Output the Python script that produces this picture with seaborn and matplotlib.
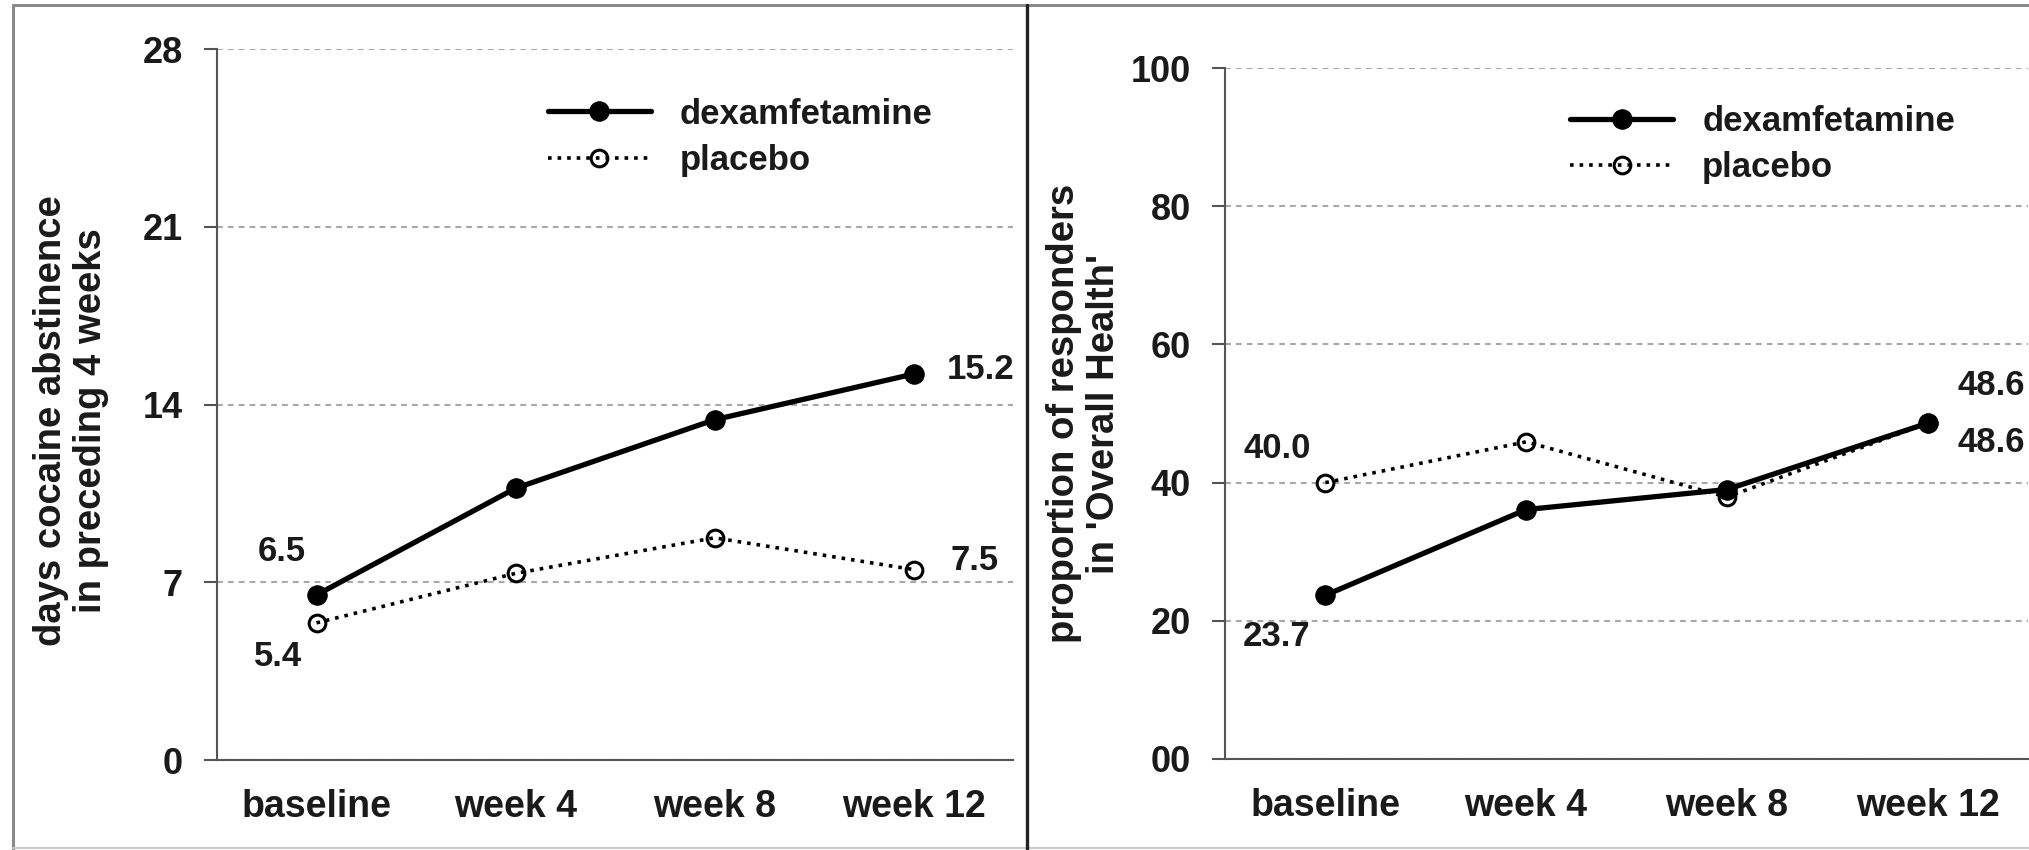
import matplotlib
matplotlib.use("Agg")
import matplotlib.pyplot as plt
from matplotlib.lines import Line2D
import seaborn as sns
import numpy as np
import pandas as pd

# ---------------- data ----------------
weeks = ["baseline", "week 4", "week 8", "week 12"]
left_dex = [6.5, 10.7, 13.4, 15.2]
left_pla = [5.4, 7.35, 8.75, 7.5]
right_dex = [23.7, 36.1, 39.0, 48.6]
right_pla = [40.0, 45.9, 37.9, 48.6]
left_yticks = [0, 7, 14, 21, 28]
right_yticks = [0, 20, 40, 60, 80, 100]
right_yticklabels = ["00", "20", "40", "60", "80", "100"]
left_ylabel = "days cocaine abstinence\nin preceding 4 weeks"
right_ylabel = "proportion of responders\nin 'Overall Health'"
series_names = ["dexamfetamine", "placebo"]

# annotations: (series, index, offset in points)
left_annots = [("dex", 0, (-25, 31)), ("pla", 0, (-28, -24)),
               ("dex", 3, (48, 3)), ("pla", 3, (44, 6.5))]
right_annots = [("pla", 0, (-35, 24.5)), ("dex", 0, (-35, -29.5)),
                ("dex", 3, (46, 27)), ("pla", 3, (46, -14))]

sns.set_theme(style="white")
plt.rcParams["font.family"] = ["Liberation Sans", "DejaVu Sans"]
plt.rcParams["font.weight"] = "bold"

W, H = 2029, 850
fig = plt.figure(figsize=(W / 100, H / 100), dpi=100)
fig.patch.set_facecolor("white")

TXT = "#1a1a1a"
SPN = "#555555"

ax1 = fig.add_axes([217 / W, 1 - 760 / H, 796 / W, 711 / H])
ax2 = fig.add_axes([1225 / W, 1 - 759 / H, 803 / W, 691 / H])


def draw(ax, dex, pla, yticks, yticklabels, ylim, ylabel, annots, ylab_pos, leg_anchor):
    df_d = pd.DataFrame({"week": weeks, "value": dex})
    df_p = pd.DataFrame({"week": weeks, "value": pla})
    sns.lineplot(data=df_d, x="week", y="value", ax=ax, sort=False, color="black",
                 linewidth=3.8, marker="o", markersize=14, markeredgecolor="black",
                 markerfacecolor="black", label=series_names[0], zorder=4)
    sns.lineplot(data=df_p, x="week", y="value", ax=ax, sort=False, color="black",
                 linewidth=2.6, linestyle=":", marker="o", markersize=12,
                 markerfacecolor="none", markeredgecolor="black", markeredgewidth=2.2,
                 label=series_names[1], zorder=3)
    ax.set_xlim(-0.5, 3.5)
    ax.set_ylim(*ylim)
    ax.set_xticks(range(len(weeks)))
    ax.set_xticklabels(weeks, fontsize=27, fontweight="bold", color=TXT)
    ax.set_xticks(np.arange(-0.5, 3.6, 1.0), minor=True)
    ax.tick_params(axis="x", which="major", length=0, pad=21)
    ax.tick_params(axis="x", which="minor", length=10, width=1.5, color=SPN, direction="out")
    ax.set_yticks(yticks)
    ax.set_yticklabels(yticklabels, fontsize=26, fontweight="bold", color=TXT)
    ax.tick_params(axis="y", which="major", length=9.5, width=1.5, color=SPN,
                   direction="out", pad=15, left=True)
    ax.set_xlabel("")
    ax.set_ylabel(ylabel, fontsize=27.5, fontweight="bold", color=TXT, linespacing=1.15)
    ax.yaxis.set_label_coords(*ylab_pos)
    ax.yaxis.label.set_verticalalignment("center")
    ax.yaxis.label.set_horizontalalignment("center")
    ax.yaxis.grid(True, linestyle=(0, (2.8, 2.4)), color="#a8a8a8", linewidth=1.5)
    ax.xaxis.grid(False)
    ax.set_axisbelow(True)
    for s in ["top", "right"]:
        ax.spines[s].set_visible(False)
    for s in ["left", "bottom"]:
        ax.spines[s].set_color(SPN)
        ax.spines[s].set_linewidth(1.5)
        ax.spines[s].set_zorder(2)
    ax.set_facecolor("white")

    series = {"dex": dex, "pla": pla}
    for key, i, off in annots:
        v = series[key][i]
        ax.annotate(f"{v:.1f}", xy=(i, v), xytext=off, textcoords="offset points",
                    ha="center", va="center", fontsize=25, fontweight="bold", color=TXT)

    leg = ax.legend(loc="center left", bbox_to_anchor=leg_anchor, frameon=False,
                    fontsize=25, handlelength=2.95, handletextpad=0.85, labelspacing=0.38,
                    borderpad=0, borderaxespad=0, numpoints=1)
    for t in leg.get_texts():
        t.set_fontweight("bold")
        t.set_color(TXT)


draw(ax1, left_dex, left_pla, left_yticks, [str(t) for t in left_yticks], (0, 28),
     left_ylabel, left_annots, (-0.1834, 0.477), (0.416, 0.876))
draw(ax2, right_dex, right_pla, right_yticks, right_yticklabels, (0, 100),
     right_ylabel, right_annots, (-0.1756, 0.50), (0.430, 0.889))

# frame lines of the figure
border = "#8a8a8a"
fig.add_artist(Line2D([13 / W, 1.0], [1 - 5 / H, 1 - 5 / H], color=border, lw=2.2,
                      transform=fig.transFigure))
fig.add_artist(Line2D([13 / W, 13 / W], [0, 1 - 5 / H], color=border, lw=2.2,
                      transform=fig.transFigure))
fig.add_artist(Line2D([13 / W, 1.0], [2 / H, 2 / H], color="#c8c8c8", lw=1.5,
                      transform=fig.transFigure))
fig.add_artist(Line2D([1027 / W, 1027 / W], [0, 1 - 5 / H], color="#222222", lw=2.4,
                      transform=fig.transFigure))

fig.savefig("out.png", dpi=100, facecolor="white")
